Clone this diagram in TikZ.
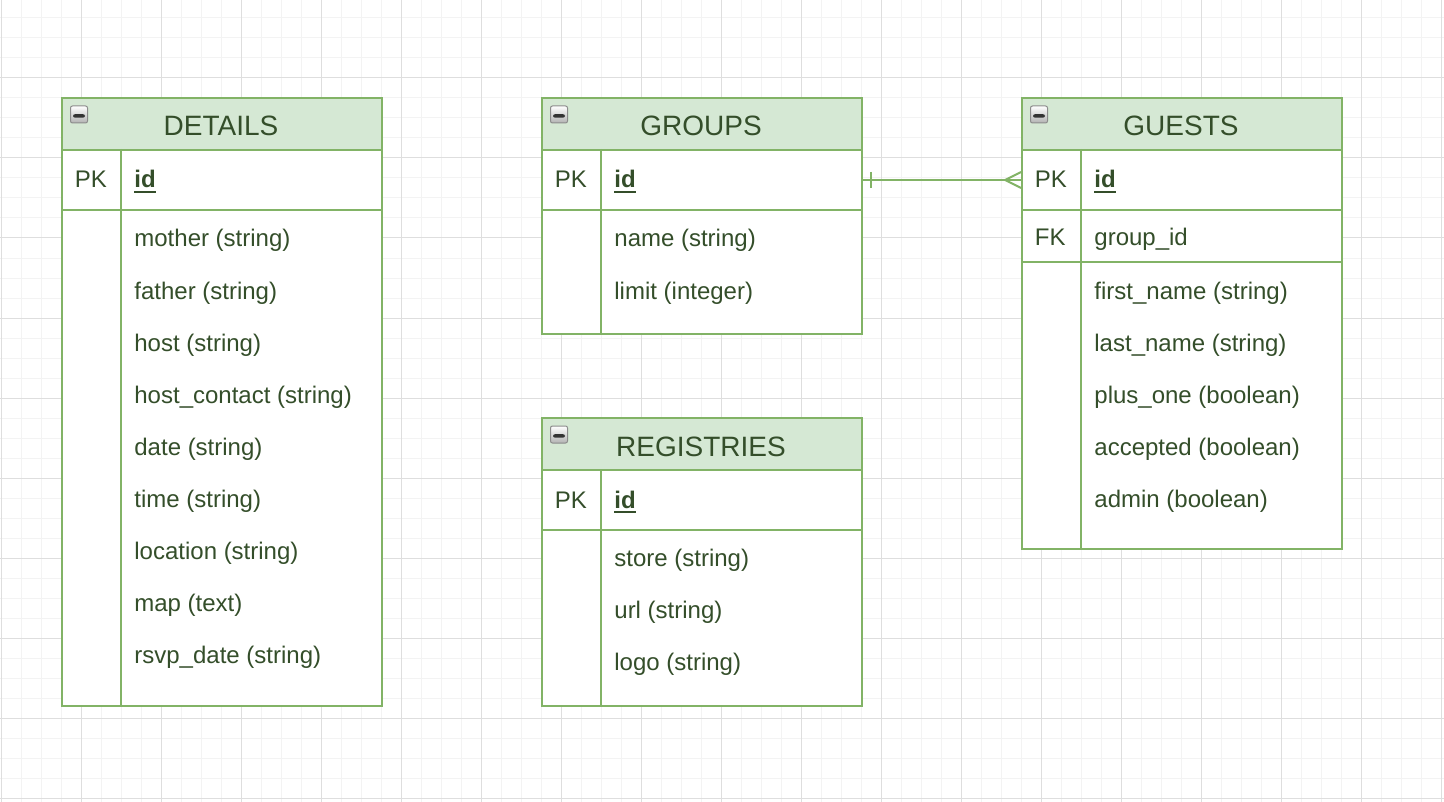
\documentclass[tikz,border=0pt]{standalone}
\usepackage{fontspec}
\setmainfont{Liberation Sans}
\definecolor{grmin}{HTML}{F3F3F3}
\definecolor{grmaj}{HTML}{DEDEDE}
\definecolor{tblline}{HTML}{82B366}
\definecolor{tblfill}{HTML}{D5E8D4}
\definecolor{txt}{HTML}{344E2A}
\begin{document}
\begin{tikzpicture}[x=0.5pt,y=-0.5pt,
  box/.style={rectangle, draw=tblline, line width=1pt, fill=white, inner sep=0pt, minimum width=160pt, anchor=north west},
  hdr/.style={box, fill=tblfill, minimum height=26pt},
  divline/.style={draw=tblline, line width=1pt},
  title/.style={font=\fontsize{14pt}{16pt}\selectfont, text=txt, anchor=base, inner sep=0pt},
  keytxt/.style={font=\fontsize{12pt}{14pt}\selectfont, text=txt, anchor=base west, inner sep=0pt},
  fieldtxt/.style={font=\fontsize{12pt}{14pt}\selectfont, text=txt, anchor=base west, inner sep=0pt},
  idtxt/.style={fieldtxt, font=\fontsize{12pt}{14pt}\selectfont\bfseries},
  uline/.style={draw=txt, line width=1pt},
  minusicon/.style={rectangle, rounded corners=1pt, draw=black!45, line width=0.5pt, top color=white, bottom color=black!30, minimum width=8.5pt, minimum height=8.5pt, inner sep=0pt,
    path picture={\fill[black!80] ([xshift=-3pt,yshift=-1.6pt]path picture bounding box.center) rectangle ++(12,-3.5);}},
  conn/.style={draw=tblline, line width=1pt}
]
\useasboundingbox (0,0) rectangle (1444,802);
\fill[white] (0,0) rectangle (1444,802);
% grid
\foreach \i in {0,...,72} \draw[grmin, line width=0.5pt] ({1+20*\i},0) -- ({1+20*\i},802);
\foreach \j in {0,...,39} \draw[grmin, line width=0.5pt] (0,{18+20*\j}) -- (1444,{18+20*\j});
\foreach \i in {0,...,18} \draw[grmaj, line width=0.5pt] ({1+80*\i},0) -- ({1+80*\i},802);
\foreach \j in {0,...,9} \draw[grmaj, line width=0.5pt] (0,{78+80*\j}) -- (1444,{78+80*\j});

% ---------- DETAILS ----------
\node[hdr] (detailsHead) at (61,97) {};
\node[box, minimum height=30pt] (detailsPK) at (61,149) {};
\node[box, minimum height=248pt] (detailsBody) at (61,209) {};
\draw[divline] ([xshift=30pt]detailsPK.north west) -- ([xshift=30pt]detailsBody.south west);
\node[minusicon] (detailsIcon) at (79,114.5) {};
\node[title] (detailsTitle) at (221,136) {DETAILS};
\node[keytxt] (detailsPKk) at (74.5,188) {PK};
\node[idtxt] (detailsPKf) at (134,188) {id};
\draw[uline] ([yshift=-2pt]detailsPKf.base west) -- ([yshift=-2pt]detailsPKf.base east);
\foreach \t [count=\k] in {mother (string), father (string), host (string), host\_contact (string), date (string), time (string), location (string), map (text), rsvp\_date (string)}
  \node[fieldtxt] (detailsF\k) at (134,{247+52*(\k-1)}) {\t};

% ---------- GROUPS ----------
\node[hdr] (groupsHead) at (541,97) {};
\node[box, minimum height=30pt] (groupsPK) at (541,149) {};
\node[box, minimum height=62pt] (groupsBody) at (541,209) {};
\draw[divline] ([xshift=30pt]groupsPK.north west) -- ([xshift=30pt]groupsBody.south west);
\node[minusicon] (groupsIcon) at (559,114.5) {};
\node[title] (groupsTitle) at (701,136) {GROUPS};
\node[keytxt] (groupsPKk) at (554.5,188) {PK};
\node[idtxt] (groupsPKf) at (614,188) {id};
\draw[uline] ([yshift=-2pt]groupsPKf.base west) -- ([yshift=-2pt]groupsPKf.base east);
\foreach \t [count=\k] in {name (string), limit (integer)}
  \node[fieldtxt] (groupsF\k) at (614,{247+52*(\k-1)}) {\t};

% ---------- REGISTRIES ----------
\node[hdr] (regHead) at (541,417) {};
\node[box, minimum height=30pt] (regPK) at (541,469) {};
\node[box, minimum height=88pt] (regBody) at (541,529) {};
\draw[divline] ([xshift=30pt]regPK.north west) -- ([xshift=30pt]regBody.south west);
\node[minusicon] (regIcon) at (559,434.5) {};
\node[title] (regTitle) at (701,456) {REGISTRIES};
\node[keytxt] (regPKk) at (554.5,508) {PK};
\node[idtxt] (regPKf) at (614,508) {id};
\draw[uline] ([yshift=-2pt]regPKf.base west) -- ([yshift=-2pt]regPKf.base east);
\foreach \t [count=\k] in {store (string), url (string), logo (string)}
  \node[fieldtxt] (regF\k) at (614,{566+52*(\k-1)}) {\t};

% ---------- GUESTS ----------
\node[hdr] (guestsHead) at (1021,97) {};
\node[box, minimum height=30pt] (guestsPK) at (1021,149) {};
\node[box, minimum height=26pt] (guestsFK) at (1021,209) {};
\node[box, minimum height=143.5pt] (guestsBody) at (1021,261) {};
\draw[divline] ([xshift=30pt]guestsPK.north west) -- ([xshift=30pt]guestsBody.south west);
\node[minusicon] (guestsIcon) at (1039,114.5) {};
\node[title] (guestsTitle) at (1181,136) {GUESTS};
\node[keytxt] (guestsPKk) at (1034.5,188) {PK};
\node[idtxt] (guestsPKf) at (1094,188) {id};
\draw[uline] ([yshift=-2pt]guestsPKf.base west) -- ([yshift=-2pt]guestsPKf.base east);
\node[keytxt] (guestsFKk) at (1034.5,246) {FK};
\node[fieldtxt] (guestsFKf) at (1094,246) {group\_id};
\foreach \t [count=\k] in {first\_name (string), last\_name (string), plus\_one (boolean), accepted (boolean), admin (boolean)}
  \node[fieldtxt] (guestsF\k) at (1094,{299+52*(\k-1)}) {\t};

% ---------- connector GROUPS.id --< GUESTS.id ----------
\draw[conn] (groupsPK.east) -- (guestsPK.west);
\draw[conn] ([xshift=4pt,yshift=4pt]groupsPK.east) -- ([xshift=4pt,yshift=-4pt]groupsPK.east);
\draw[conn] ([yshift=4pt]guestsPK.west) -- ([xshift=-8pt]guestsPK.west) -- ([yshift=-4pt]guestsPK.west);
\end{tikzpicture}
\end{document}
